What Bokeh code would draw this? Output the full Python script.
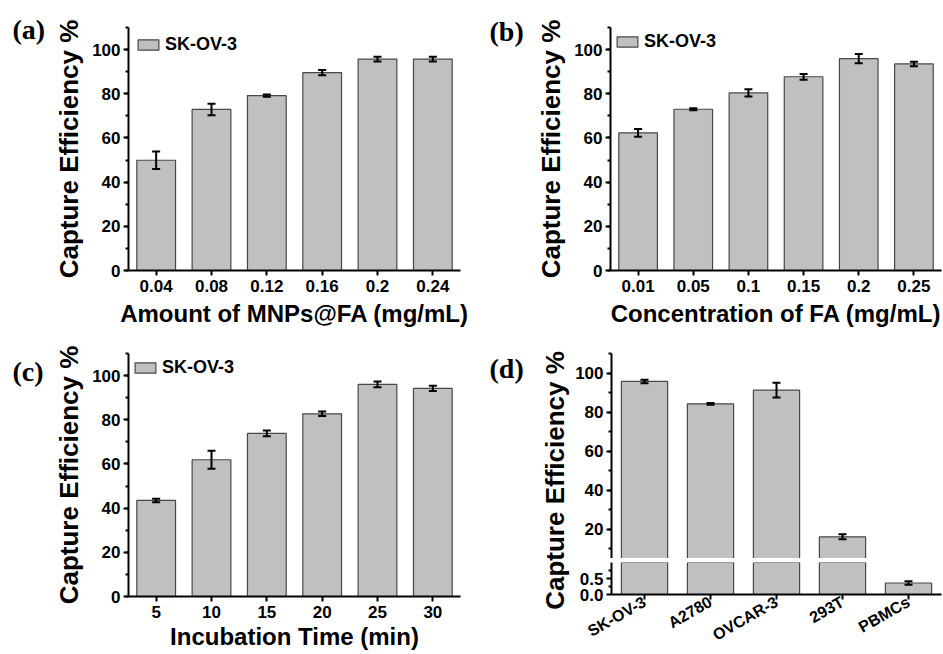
import numpy as np
from bokeh.plotting import figure
from bokeh.layouts import row, column
from bokeh.models import (ColumnDataSource, Whisker, TeeHead, FactorRange, Range1d,
                          SingleIntervalTicker, FixedTicker, PrintfTickFormatter, Label)
from bokeh.embed import file_html
from bokeh.resources import INLINE

# ---------------- data ----------------
a_labels = ["0.04", "0.08", "0.12", "0.16", "0.2", "0.24"]
a_values = [49.9, 72.9, 79.2, 89.6, 95.7, 95.7]
a_errors = [4.0, 2.6, 0.5, 1.2, 1.1, 1.1]

b_labels = ["0.01", "0.05", "0.1", "0.15", "0.2", "0.25"]
b_values = [62.3, 73.0, 80.4, 87.7, 95.9, 93.5]
b_errors = [1.7, 0.5, 1.6, 1.3, 2.1, 1.0]

c_labels = ["5", "10", "15", "20", "25", "30"]
c_values = [43.5, 61.9, 73.8, 82.7, 96.0, 94.2]
c_errors = [0.8, 4.1, 1.3, 1.0, 1.3, 1.2]

d_labels = ["SK-OV-3", "A2780", "OVCAR-3", "293T", "PBMCs"]
d_values = [95.7, 84.2, 91.2, 16.1, 0.36]
d_errors = [0.9, 0.5, 3.8, 1.3, 0.055]

legend_name = "SK-OV-3"
y_title = "Capture Efficiency %"
a_xtitle = "Amount of MNPs@FA (mg/mL)"
b_xtitle = "Concentration of FA (mg/mL)"
c_xtitle = "Incubation Time (min)"
panel_tags = ["(a)", "(b)", "(c)", "(d)"]

y_full = (0, 110)
d_upper_range = (5, 110)
d_lower_range = (0, 1.0)
d_lower_ticks = [0.0, 0.5]
d_lower_minor = [0.25, 0.75]

# ---------------- style ----------------
SANS = "Liberation Sans"
SERIF = "Liberation Serif"
BAR_FILL = "#c0c0c0"
BAR_LINE = "#484848"
TICK_PX = "17px"
YTITLE_PX = "26px"
XTITLE_PX = "24px"
TAG_PX = "28px"


def src_for(labels, values, errors, keep=None):
    v = np.array(values, dtype=float)
    e = np.array(errors, dtype=float)
    lab = np.array(labels)
    if keep is None:
        keep = np.ones(len(v), dtype=bool)
    return ColumnDataSource(dict(x=list(lab[keep]), top=v[keep],
                                 upper=(v + e)[keep], lower=(v - e)[keep]))


def base_fig(labels, yr, width, height, bl, br, bt, bb, x_range=None):
    p = figure(x_range=x_range if x_range is not None else FactorRange(factors=labels),
               y_range=Range1d(*yr), width=width, height=height,
               min_border_left=bl, min_border_right=br,
               min_border_top=bt, min_border_bottom=bb,
               output_backend="svg", toolbar_location=None, tools="")
    p.grid.visible = False
    p.outline_line_color = None
    p.background_fill_color = "white"
    p.border_fill_color = "white"
    for ax in p.axis:
        ax.axis_line_width = 2
        ax.axis_line_color = "black"
        ax.major_tick_line_width = 2
        ax.major_tick_line_color = "black"
        ax.major_tick_in = 0
        ax.major_tick_out = 5
        ax.minor_tick_line_width = 2
        ax.minor_tick_line_color = "black"
        ax.minor_tick_in = 0
        ax.minor_tick_out = 3
        ax.major_label_text_font = SANS
        ax.major_label_text_font_style = "bold"
        ax.major_label_text_font_size = TICK_PX
        ax.major_label_text_color = "black"
        ax.axis_label_text_font = SANS
        ax.axis_label_text_font_style = "bold"
        ax.axis_label_text_color = "black"
    p.yaxis.major_label_standoff = 3
    p.xaxis.major_label_standoff = 4
    return p


def add_bars(p, bar_src, whisk_src, legend=False):
    kw = dict(legend_label=legend_name) if legend else {}
    p.vbar(x="x", top="top", bottom=0, width=0.7, source=bar_src,
           fill_color=BAR_FILL, line_color=BAR_LINE, line_width=1.2, **kw)
    w = Whisker(base="x", upper="upper", lower="lower", source=whisk_src,
                line_color="black", line_width=2, level="annotation",
                upper_head=TeeHead(size=8, line_width=2, line_color="black"),
                lower_head=TeeHead(size=8, line_width=2, line_color="black"))
    p.add_layout(w)


def style_legend(p, margin):
    lg = p.legend[0]
    lg.location = "top_left"
    lg.margin = margin
    lg.padding = 2
    lg.border_line_color = None
    lg.background_fill_alpha = 0
    lg.glyph_width = 26
    lg.glyph_height = 13
    lg.label_standoff = 4
    lg.label_text_font = SANS
    lg.label_text_font_style = "bold"
    lg.label_text_font_size = "18px"
    lg.label_text_color = "black"


def strip(width, height):
    s = figure(width=width, height=height, x_range=Range1d(0, 1), y_range=Range1d(0, 1),
               min_border=0, output_backend="svg", toolbar_location=None, tools="")
    s.axis.visible = False
    s.grid.visible = False
    s.outline_line_color = None
    s.background_fill_color = "white"
    s.border_fill_color = "white"
    return s


def tag(s, text, x, y):
    s.add_layout(Label(x=x, y=y, x_units="screen", y_units="screen", text=text,
                       text_font=SERIF, text_font_style="bold", text_font_size=TAG_PX,
                       text_align="left", text_baseline="middle", text_color="black"))


def full_panel(labels, values, errors, xtitle, width, height, bl, br, bt, bb, lmargin, xstand):
    p = base_fig(labels, y_full, width, height, bl, br, bt, bb)
    s = src_for(labels, values, errors)
    add_bars(p, s, s, legend=True)
    style_legend(p, lmargin)
    p.yaxis.ticker = SingleIntervalTicker(interval=20, num_minor_ticks=2)
    p.yaxis.axis_label = y_title
    p.yaxis.axis_label_text_font_size = YTITLE_PX
    p.yaxis.axis_label_standoff = 5
    p.xaxis.axis_label = xtitle
    p.xaxis.axis_label_text_font_size = XTITLE_PX
    p.xaxis.axis_label_standoff = xstand
    return p


# ---------------- geometry ----------------
W = 943
H = 654
H1 = 332
H2 = H - H1
TOP1 = 27
FH1 = 243
TOP2 = 21
FH2 = 243
LEFT_W = 470

# row 1
ta = strip(46, H1)
tag(ta, panel_tags[0], 12, H1 - 29)
pa = full_panel(a_labels, a_values, a_errors, a_xtitle, LEFT_W - 46, H1, 82, 10,
                TOP1, H1 - TOP1 - FH1, 7, 5)
tb = strip(58, H1)
tag(tb, panel_tags[1], 19, H1 - 31)
pb = full_panel(b_labels, b_values, b_errors, b_xtitle, W - LEFT_W - 58, H1, 82, 2,
                TOP1, H1 - TOP1 - FH1, 4, 5)

# row 2
tc = strip(46, H2)
tag(tc, panel_tags[2], 12, H2 - 39)
pc = full_panel(c_labels, c_values, c_errors, c_xtitle, LEFT_W - 46, H2, 82, 10,
                TOP2, H2 - TOP2 - FH2, 4, 2)

# panel (d): broken y axis drawn as two stacked plots sharing the x range
UP_H = 205
GAP = 4
LOW_H = FH2 - UP_H - GAP
TD_W = 102
D_LEFT = 38
up_height = TOP2 + UP_H
low_height = H2 - up_height
dw = W - LEFT_W - TD_W

dv = np.array(d_values)
de = np.array(d_errors)
d_bars = src_for(d_labels, d_values, d_errors)
d_up_wh = src_for(d_labels, d_values, d_errors, keep=(dv - de) > d_upper_range[0])
d_low_wh = src_for(d_labels, d_values, d_errors, keep=(dv + de) < d_lower_range[1])

pu = base_fig(d_labels, d_upper_range, dw, up_height, D_LEFT, 2, TOP2, 0)
add_bars(pu, d_bars, d_up_wh)
pu.xaxis.visible = False
pu.yaxis.ticker = SingleIntervalTicker(interval=20, num_minor_ticks=2)

pl = base_fig(d_labels, d_lower_range, dw, low_height, D_LEFT, 2, GAP, low_height - GAP - LOW_H,
              x_range=pu.x_range)
add_bars(pl, d_bars, d_low_wh)
pl.yaxis.ticker = FixedTicker(ticks=d_lower_ticks, minor_ticks=d_lower_minor)
pl.yaxis.formatter = PrintfTickFormatter(format="%.1f")
pl.xaxis.major_label_orientation = 0.52
pl.xaxis.major_label_text_font_size = "16px"
pl.xaxis.major_label_standoff = 1

td = strip(TD_W, H2)
tag(td, panel_tags[3], 19, H2 - 36)
td.add_layout(Label(x=84, y=H2 - 148, x_units="screen", y_units="screen", text=y_title,
                    angle=np.pi / 2, text_font=SANS, text_font_style="bold",
                    text_font_size=YTITLE_PX, text_align="center", text_baseline="middle",
                    text_color="black"))

layout = column(
    row(column(ta), pa, column(tb), pb),
    row(column(tc), pc, column(td), column(pu, pl)),
)

open("out.html", "w").write(file_html(layout, INLINE))
